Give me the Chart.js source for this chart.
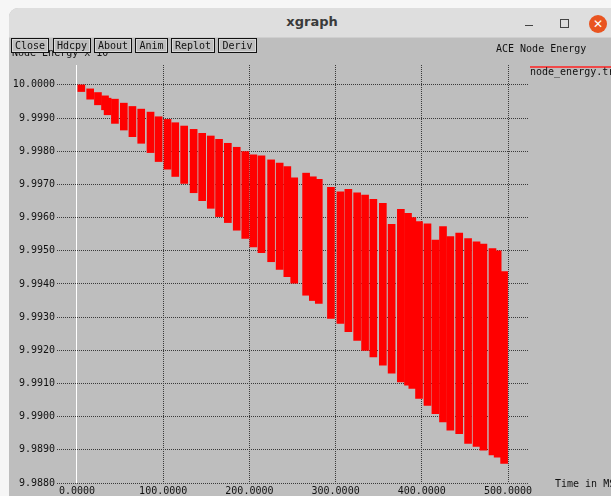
<!DOCTYPE html>
<html>
<head>
<meta charset="utf-8">
<script src="https://cdn.jsdelivr.net/npm/chart.js@4.4.1/dist/chart.umd.min.js"></script>
<style>
  html, body { margin:0; padding:0; }
  body { width:611px; height:496px; overflow:hidden; position:relative; background:#f6f6f6; font-family:"DejaVu Sans Mono", monospace; }
  #win { position:absolute; left:9px; top:8px; width:640px; height:500px; background:#bebebe; border-radius:9px 9px 0 0; overflow:hidden; }
  #titlebar { position:absolute; left:0; top:0; width:100%; height:29px; background:#dedede; border-bottom:1px solid #cfcfcf; }
  #ttl { position:absolute; left:303px; top:6px; transform:translateX(-50%); font:bold 13px "DejaVu Sans", sans-serif; color:#3a3a3a; }
  #minb { position:absolute; left:516px; top:17px; width:8px; height:1px; background:#444; }
  #maxb { position:absolute; left:551px; top:11px; width:7px; height:7px; border:1px solid #444; }
  #closeb { position:absolute; left:580px; top:7px; width:18px; height:18px; border-radius:50%; background:#e95420; color:#fff; font:bold 12px "DejaVu Sans", sans-serif; text-align:center; line-height:18px; }
  canvas { position:absolute; left:0; top:0; }
  .t { position:absolute; font-size:10px; line-height:12px; color:#111; white-space:nowrap; font-family:"DejaVu Sans Mono", monospace; }
  .btn { position:absolute; top:38px; height:15px; box-sizing:border-box; border:1px solid #111; background:#bebebe; box-shadow: inset 0 0 0 1px #d8d8d8; font-size:10px; line-height:13px; text-align:center; color:#111; font-family:"DejaVu Sans Mono", monospace; }
  #legline { position:absolute; left:530px; top:66px; width:90px; height:2px; background:#f04848; }
</style>
</head>
<body>
<div id="win">
  <div id="titlebar">
    <div id="ttl">xgraph</div>
    <div id="minb"></div>
    <div id="maxb"></div>
    <div id="closeb">✕</div>
  </div>
</div>
<canvas id="c" width="611" height="496"></canvas>
<div class="t" style="left:12px;top:47px;">Node Energy x 10<span style="font-size:7px;position:relative;top:-5px;">0</span></div>
<div class="btn" style="left:11px;width:38px;">Close</div>
<div class="btn" style="left:53px;width:38px;">Hdcpy</div>
<div class="btn" style="left:94px;width:38px;">About</div>
<div class="btn" style="left:135px;width:33px;">Anim</div>
<div class="btn" style="left:171px;width:44px;">Replot</div>
<div class="btn" style="left:218px;width:39px;">Deriv</div>
<div class="t" style="left:496px;top:43px;">ACE Node Energy</div>
<div id="legline"></div>
<div class="t" style="left:530px;top:66px;">node_energy.tr</div>
<div class="t" style="left:555px;top:478px;">Time in MS</div>
<script>
// Time (MS) of each oscillation burst, and the highest / lowest node energy reached in it
const times = [5, 15.3, 24.3, 32.5, 35.5, 44, 54.3, 64.3, 74.5, 85.3, 94.7, 105, 114, 124.3, 135.3, 145.2, 155.2, 164.8, 175, 185.3, 195.2, 204.6, 214, 225.2, 235.1, 244, 252, 265.8, 273.6, 280.5, 294.6, 305.6, 314.8, 325, 334.2, 343.8, 354.8, 365, 375.7, 384, 389, 396.8, 406.6, 415.8, 424.6, 433.1, 443.4, 453.7, 463.5, 471.5, 482, 488, 495.5];
const highs = [10.0000, 9.99988, 9.99977, 9.99967, 9.99960, 9.99957, 9.99945, 9.99935, 9.99927, 9.99918, 9.99904, 9.99896, 9.99886, 9.99876, 9.99866, 9.99854, 9.99846, 9.99836, 9.99824, 9.99812, 9.99799, 9.99789, 9.99786, 9.99774, 9.99764, 9.99754, 9.99720, 9.99734, 9.99723, 9.99715, 9.99691, 9.99678, 9.99685, 9.99675, 9.99668, 9.99655, 9.99643, 9.99580, 9.99625, 9.99613, 9.99600, 9.99588, 9.99581, 9.99532, 9.99573, 9.99543, 9.99553, 9.99537, 9.99527, 9.99520, 9.99507, 9.99500, 9.99437];
const lows = [9.99980, 9.99957, 9.99940, 9.99925, 9.99910, 9.99884, 9.99864, 9.99844, 9.99824, 9.99796, 9.99769, 9.99746, 9.99724, 9.99703, 9.99675, 9.99651, 9.99628, 9.99603, 9.99585, 9.99562, 9.99537, 9.99512, 9.99494, 9.99467, 9.99444, 9.99422, 9.99402, 9.99366, 9.99350, 9.99341, 9.99296, 9.99281, 9.99256, 9.99230, 9.99200, 9.99180, 9.99155, 9.99131, 9.99105, 9.99095, 9.99085, 9.99055, 9.99034, 9.99009, 9.98984, 9.98959, 9.98949, 9.98919, 9.98910, 9.98899, 9.98885, 9.98878, 9.98859];

const xTicks = [0, 100, 200, 300, 400, 500];
const xTickLabels = ['0.0000', '100.0000', '200.0000', '300.0000', '400.0000', '500.0000'];
const yTicks = [10.0000, 9.9990, 9.9980, 9.9970, 9.9960, 9.9950, 9.9940, 9.9930, 9.9920, 9.9910, 9.9900, 9.9890, 9.9880];
const yTickLabels = ['10.0000', '9.9990', '9.9980', '9.9970', '9.9960', '9.9950', '9.9940', '9.9930', '9.9920', '9.9910', '9.9900', '9.9890', '9.9880'];

const points = times.map((t, i) => ({ x: t, y: [lows[i], highs[i]] }));
const tickFont = { family: 'DejaVu Sans Mono', size: 10 };
const gridColor = c => (c.tick && c.tick.value === 0) ? '#ffffff' : '#3a3a3a';
const gridDash = c => (c.tick && c.tick.value === 0) ? [] : [1, 1];

new Chart(document.getElementById('c'), {
  type: 'bar',
  data: {
    datasets: [{
      label: 'node_energy.tr',
      data: points,
      backgroundColor: '#ff0000',
      borderWidth: 0,
      barThickness: 7,
      grouped: false
    }]
  },
  options: {
    responsive: false,
    animation: false,
    events: [],
    layout: { padding: { left: 0, right: 83, top: 65, bottom: 0 } },
    plugins: { legend: { display: false }, tooltip: { enabled: false } },
    scales: {
      x: {
        type: 'linear',
        min: -23.2,
        max: 523.2,
        offset: false,
        afterBuildTicks: s => { s.ticks = xTicks.map(v => ({ value: v })); },
        afterFit: s => { s.height = 13; },
        grid: { offset: false, color: gridColor, drawTicks: false, lineWidth: 1 },
        border: { display: false, dash: gridDash },
        ticks: { autoSkip: false, maxRotation: 0, padding: 2, font: tickFont, color: '#111',
                 callback: (v, i) => xTickLabels[i] }
      },
      y: {
        type: 'linear',
        min: 9.988,
        max: 10.0006,
        afterBuildTicks: s => { s.ticks = yTicks.map(v => ({ value: v })); },
        afterFit: s => { s.width = 57; },
        grid: { color: '#3a3a3a', drawTicks: false, lineWidth: 1 },
        border: { display: false, dash: [1, 1] },
        ticks: { autoSkip: false, padding: 2, font: tickFont, color: '#111',
                 callback: (v, i) => yTickLabels[i] }
      }
    }
  }
});
</script>
</body>
</html>
